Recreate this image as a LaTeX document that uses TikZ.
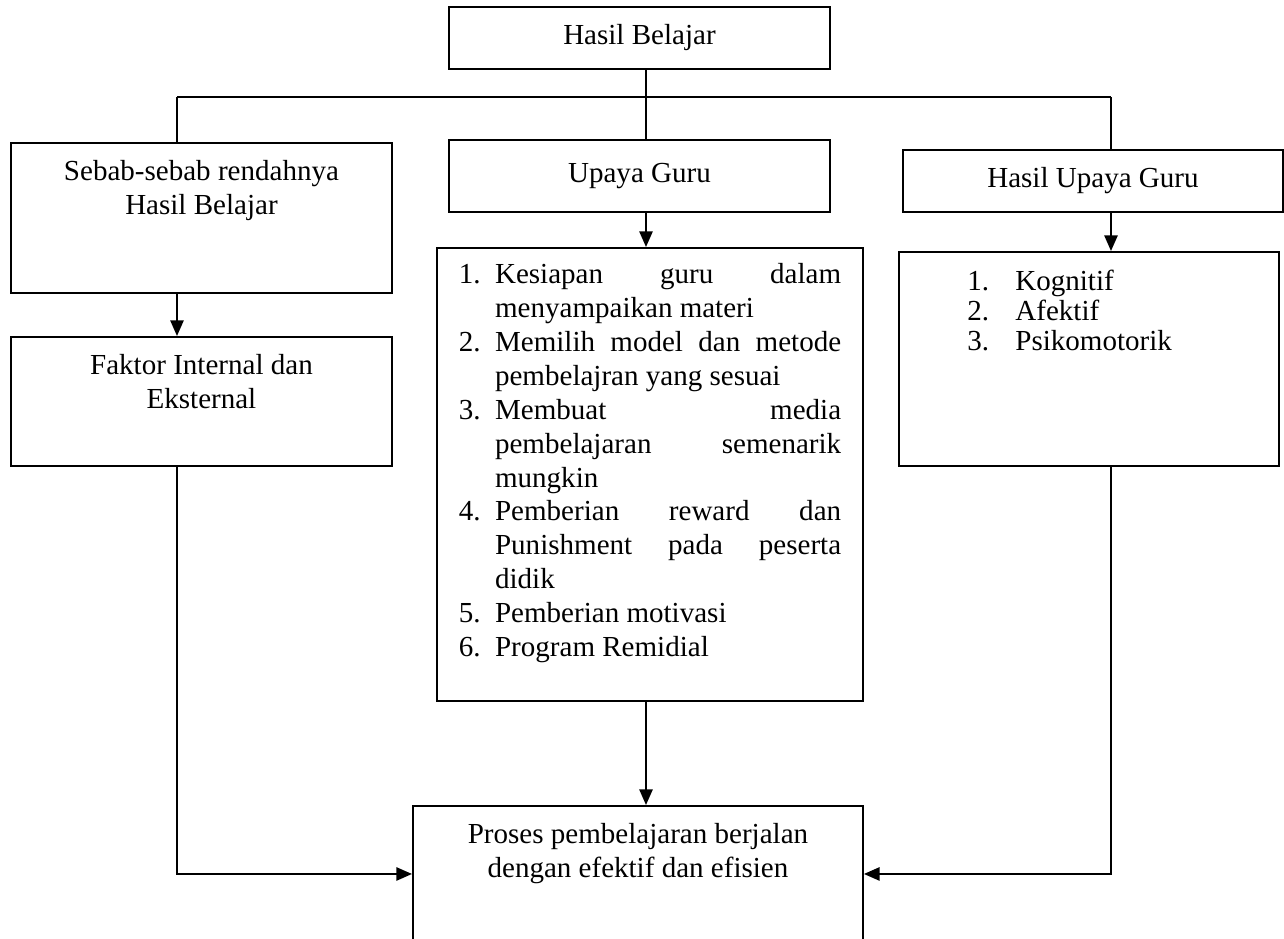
\documentclass[tikz,border=0pt]{standalone}
\usepackage{fontspec}
\setmainfont{Liberation Serif}
\usetikzlibrary{arrows.meta,positioning}

\newcommand{\px}{0.4132pt}
\newcommand{\butir}[2]{\par\noindent\hangindent=15pt\hangafter=1\makebox[15pt][l]{#1}#2}
\newcommand{\nomor}[1]{\makebox[19.8pt][l]{#1}}

\begin{document}
\begin{tikzpicture}[x=\px, y=-\px, >={Triangle[length=6.5pt,width=5.5pt]},
    kotak/.style={draw, line width=0.8pt, anchor=north west, inner sep=0pt},
    teks/.style={align=center, inner sep=0pt, font=\fontsize{12}{13.8}\selectfont},
    garis/.style={line width=0.8pt}]
  \useasboundingbox (0,0) rectangle (1284,939);

  % kotak atas dan tiga cabang
  \node[kotak, teks, minimum width=381*\px, minimum height=62*\px] (atas) at (448,6) {Hasil Belajar};
  \node[kotak, minimum width=381*\px, minimum height=150*\px] (sebab) at (10,142) {};
  \node[teks, below=7.5pt of sebab.north] (tsebab) {Sebab-sebab rendahnya\\Hasil Belajar};
  \node[kotak, teks, minimum width=381*\px, minimum height=72*\px] (upaya) at (448,139) {Upaya Guru};
  \node[kotak, teks, minimum width=380*\px, minimum height=62*\px] (hasilupaya) at (902,149) {Hasil Upaya Guru};

  % kotak tingkat kedua
  \node[kotak, minimum width=381*\px, minimum height=129*\px] (faktor) at (10,336) {};
  \node[teks, below=7.5pt of faktor.north] (tfaktor) {Faktor Internal dan\\Eksternal};
  \node[kotak, minimum width=426*\px, minimum height=453*\px] (daftar) at (436,247) {};
  \node[teks, align=justify, text width=158pt, font=\fontsize{12}{14}\selectfont,
        below=1pt of daftar.north] (tdaftar) {\hyphenpenalty10000
    \butir{1.}{Kesiapan guru dalam\linebreak menyampaikan materi}
    \butir{2.}{Memilih model dan metode\linebreak pembelajran yang sesuai}
    \butir{3.}{Membuat media\linebreak pembelajaran semenarik\linebreak mungkin}
    \butir{4.}{Pemberian reward dan\linebreak Punishment pada peserta\linebreak didik}
    \butir{5.}{Pemberian motivasi}
    \butir{6.}{Program Remidial}\par};
  \node[kotak, minimum width=380*\px, minimum height=214*\px] (daftarkanan) at (898,251) {};
  \node[teks, align=left, font=\fontsize{12}{12.4}\selectfont,
        below right=7.5pt and 28.5pt of daftarkanan.north west] (tkanan)
        {\nomor{1.}Kognitif\\\nomor{2.}Afektif\\\nomor{3.}Psikomotorik};

  % kotak bawah
  \node[kotak, minimum width=450*\px, minimum height=136*\px] (proses) at (412,805) {};
  \node[teks, below=7.5pt of proses.north] (tproses) {Proses pembelajaran berjalan\\dengan efektif dan efisien};

  % garis penghubung
  \coordinate (kiri) at (177,97);
  \coordinate (kanan) at (1111,97);
  \coordinate (tengah) at (646,97);
  \draw[garis] (kiri) -- (kanan);
  \draw[garis] (kiri) -- (kiri |- sebab.north);
  \draw[garis] (kanan) -- (kanan |- hasilupaya.north);
  \draw[garis] (tengah |- atas.south) -- (tengah |- upaya.north);
  \draw[garis,->] (kiri |- sebab.south) -- (kiri |- faktor.north);
  \draw[garis,->] (tengah |- upaya.south) -- (tengah |- daftar.north);
  \draw[garis,->] (kanan |- hasilupaya.south) -- (kanan |- daftarkanan.north);
  \draw[garis,->] (tengah |- daftar.south) -- (tengah |- proses.north);
  \draw[garis,->] (kiri |- faktor.south) |- (proses.west);
  \draw[garis,->] (kanan |- daftarkanan.south) |- (proses.east);
\end{tikzpicture}
\end{document}
